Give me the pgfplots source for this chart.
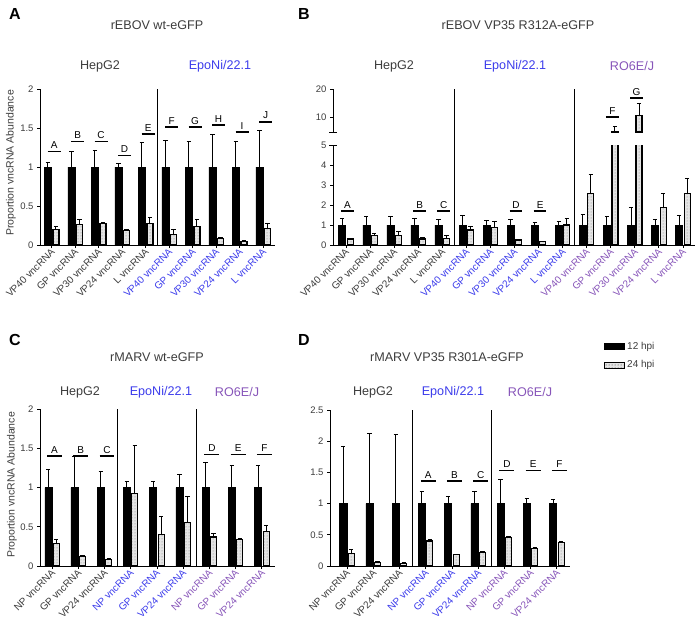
\documentclass[border=0pt]{standalone}
\usepackage{fontspec}
\setmainfont{Liberation Sans}
\usepackage{pgfplots}
\pgfplotsset{compat=1.18}
\usepackage{pgfplotstable}
\usetikzlibrary{patterns}
\definecolor{txt}{RGB}{60,60,60}
\definecolor{epo}{RGB}{60,60,235}
\definecolor{ro}{RGB}{135,85,185}
\definecolor{dotfill}{RGB}{228,228,228}

\pgfplotstableread{
x blk blktop dot dottop
0 1 1.06 0.20 0.24
1 1 1.20 0.26 0.33
2 1 1.21 0.27 0.29
3 1 1.05 0.19 0.20
4 1 1.32 0.27 0.35
5 1 1.34 0.14 0.20
6 1 1.33 0.24 0.33
7 1 1.42 0.08 0.10
8 1 1.33 0.05 0.06
9 1 1.47 0.21 0.28
}\dataA

\pgfplotstableread{
x blk blktop dot dottop
0 1 1.33 0.30 0.35
1 1 1.42 0.47 0.58
2 1 1.42 0.47 0.67
3 1 1.33 0.30 0.38
4 1 1.28 0.33 0.47
5 1 1.50 0.75 0.95
6 1 1.22 0.88 1.17
7 1 1.30 0.25 0.30
8 1 1.12 0.17 0.20
9 1 1.17 1.00 1.33
10 1 1.55 2.58 3.53
11 1 1.45 5.30 6.90
12 1 1.88 10.8 15.1
13 1 1.28 1.88 2.58
14 1 1.47 2.58 3.33
}\dataB

\pgfplotstableread{
x dot dottop
11 5.30 6.90
12 10.8 15.1
}\dataBup

\pgfplotstableread{
x blk blktop dot dottop
0 1 1.23 0.29 0.34
1 1 1.39 0.12 0.13
2 1 1.20 0.08 0.10
3 1 1.08 0.92 1.53
4 1 1.08 0.40 0.63
5 1 1.16 0.55 0.88
6 1 1.32 0.37 0.42
7 1 1.28 0.34 0.35
8 1 1.28 0.44 0.51
}\dataC

\pgfplotstableread{
x blk blktop dot dottop
0 1 1.92 0.20 0.26
1 1 2.12 0.06 0.065
2 1 2.10 0.045 0.05
3 1 1.20 0.40 0.42
4 1 1.12 0.18 0.19
5 1 1.20 0.22 0.23
6 1 1.38 0.45 0.47
7 1 1.08 0.28 0.30
8 1 1.06 0.37 0.39
}\dataD

\pgfplotsset{
  panel/.style={
    scale only axis, anchor=south west, axis lines*=left, clip marker paths=true,
    axis line style={black, line width=0.9pt},
    tick align=outside, major tick length=3pt,
    every tick/.style={black, line width=0.9pt},
    y tick label style={font=\fontsize{9.5}{10}\selectfont, text=txt},
    x tick label style={font=\fontsize{10}{11}\selectfont, text=txt, rotate=45, anchor=east, inner sep=1.5pt, yshift=-2.5pt, xshift=1pt},
    /pgf/number format/assume math mode=true,
    ymin=0,
  },
  blk/.style={ybar, bar width=7pt, bar shift=0pt, fill=black, draw=black, line width=0.5pt,
    error bars/y dir=plus, error bars/y explicit,
    error bars/error bar style={black, line width=1pt},
    error bars/error mark options={black, rotate=90, mark size=2.2pt, line width=1pt},
    legend image code/.code={\draw[fill=black, draw=black] (0pt,-3pt) rectangle (20pt,3pt);}},
  dt/.style={ybar, bar width=6pt, bar shift=0pt, fill=dotfill, draw=black, line width=1.1pt,
    postaction={pattern=dots, pattern color=gray},
    error bars/y dir=plus, error bars/y explicit,
    error bars/error bar style={black, line width=1pt},
    error bars/error mark options={black, rotate=90, mark size=2.2pt, line width=1pt},
    legend image code/.code={\draw[fill=dotfill, draw=black, line width=0.9pt, postaction={pattern=dots, pattern color=gray}] (0pt,-3pt) rectangle (20pt,3pt);}},
  sep/.style={black, line width=1.5pt, forget plot, mark=none},
  sig/.style={black, line width=1.5pt, forget plot, mark=none},
}
\newcommand{\sigfont}{\fontsize{10}{11}\selectfont\color{txt}}
% #1 table, #2 left offset of black bars, #3 right offset of dotted bars (in x units)
\newcommand{\bars}[3]{%
  \addplot[blk] table[x expr=\thisrow{x}-#2, y=blk, y error plus expr=\thisrow{blktop}-\thisrow{blk}] {#1};
  \addplot[dt] table[x expr=\thisrow{x}+#3, y=dot, y error plus expr=\thisrow{dottop}-\thisrow{dot}] {#1};
}

\begin{document}
\begin{tikzpicture}
\path[use as bounding box] (0pt,0pt) rectangle (696pt,-626pt);

% ---------------- Panel A ----------------
\begin{axis}[panel, at={(40pt,-245pt)}, width=235pt, height=156pt,
  xmin=-0.5, xmax=9.5, ymax=2, ytick={0,0.5,1,1.5,2},
  xtick={0,...,9},
  xticklabels={VP40 vncRNA, GP vncRNA, VP30 vncRNA, VP24 vncRNA, L vncRNA,
    \textcolor{epo}{VP40 vncRNA}, \textcolor{epo}{GP vncRNA}, \textcolor{epo}{VP30 vncRNA}, \textcolor{epo}{VP24 vncRNA}, \textcolor{epo}{L vncRNA}}]
\bars{\dataA}{0.162}{0.179}
\addplot[sep] coordinates {(4.5,0) (4.5,2)};
\addplot[sig] coordinates {(-0.18,1.20) (0.38,1.20)} node[pos=0.5, above, inner sep=2pt, font=\sigfont] {A};
\addplot[sig] coordinates {(0.82,1.33) (1.38,1.33)} node[pos=0.5, above, inner sep=2pt, font=\sigfont] {B};
\addplot[sig] coordinates {(1.82,1.33) (2.38,1.33)} node[pos=0.5, above, inner sep=2pt, font=\sigfont] {C};
\addplot[sig] coordinates {(2.82,1.15) (3.38,1.15)} node[pos=0.5, above, inner sep=2pt, font=\sigfont] {D};
\addplot[sig] coordinates {(3.82,1.42) (4.38,1.42)} node[pos=0.5, above, inner sep=2pt, font=\sigfont] {E};
\addplot[sig] coordinates {(4.82,1.51) (5.38,1.51)} node[pos=0.5, above, inner sep=2pt, font=\sigfont] {F};
\addplot[sig] coordinates {(5.82,1.51) (6.38,1.51)} node[pos=0.5, above, inner sep=2pt, font=\sigfont] {G};
\addplot[sig] coordinates {(6.82,1.54) (7.38,1.54)} node[pos=0.5, above, inner sep=2pt, font=\sigfont] {H};
\addplot[sig] coordinates {(7.82,1.45) (8.38,1.45)} node[pos=0.5, above, inner sep=2pt, font=\sigfont] {I};
\addplot[sig] coordinates {(8.82,1.58) (9.38,1.58)} node[pos=0.5, above, inner sep=2pt, font=\sigfont] {J};
\end{axis}

% ---------------- Panel B (broken axis) ----------------
\begin{axis}[panel, at={(333pt,-245pt)}, width=362pt, height=100pt,
  xmin=-0.54, xmax=14.5, ymax=5, ytick={0,1,2,3,4,5},
  xtick={0,...,14},
  xticklabels={VP40 vncRNA, GP vncRNA, VP30 vncRNA, VP24 vncRNA, L vncRNA,
    \textcolor{epo}{VP40 vncRNA}, \textcolor{epo}{GP vncRNA}, \textcolor{epo}{VP30 vncRNA}, \textcolor{epo}{VP24 vncRNA}, \textcolor{epo}{L vncRNA},
    \textcolor{ro}{VP40 vncRNA}, \textcolor{ro}{GP vncRNA}, \textcolor{ro}{VP30 vncRNA}, \textcolor{ro}{VP24 vncRNA}, \textcolor{ro}{L vncRNA}},
  after end axis/.code={
    \draw[black, line width=1.5pt] (axis cs:4.5,5) -- ++(0pt,14pt);
    \draw[black, line width=1.5pt] (axis cs:9.5,5) -- ++(0pt,14pt);
    \draw[black, line width=0.9pt] ([xshift=-4pt]axis cs:-0.54,5) -- ++(8pt,0pt);
  }]
\bars{\dataB}{0.158}{0.174}
\addplot[sep] coordinates {(4.5,0) (4.5,5)};
\addplot[sep] coordinates {(9.5,0) (9.5,5)};
\addplot[sig] coordinates {(-0.2,1.7) (0.33,1.7)} node[pos=0.5, above, inner sep=2pt, font=\sigfont] {A};
\addplot[sig] coordinates {(2.8,1.7) (3.33,1.7)} node[pos=0.5, above, inner sep=2pt, font=\sigfont] {B};
\addplot[sig] coordinates {(3.8,1.7) (4.33,1.7)} node[pos=0.5, above, inner sep=2pt, font=\sigfont] {C};
\addplot[sig] coordinates {(6.8,1.7) (7.33,1.7)} node[pos=0.5, above, inner sep=2pt, font=\sigfont] {D};
\addplot[sig] coordinates {(7.8,1.7) (8.33,1.7)} node[pos=0.5, above, inner sep=2pt, font=\sigfont] {E};
\end{axis}

\begin{axis}[panel, at={(333pt,-132pt)}, width=362pt, height=43pt,
  xmin=-0.54, xmax=14.5, ymin=5, ymax=20, ytick={10,20},
  axis x line=none, axis y line*=left, clip=true,
  after end axis/.code={
    \draw[black, line width=0.9pt] ([xshift=-4pt]axis cs:-0.54,5) -- ++(8pt,0pt);
  }]
\addplot[dt] table[x expr=\thisrow{x}+0.174, y=dot, y error plus expr=\thisrow{dottop}-\thisrow{dot}] {\dataBup};
\addplot[sep] coordinates {(4.5,5) (4.5,20)};
\addplot[sep] coordinates {(9.5,5) (9.5,20)};
\end{axis}
\begin{axis}[panel, at={(333pt,-132pt)}, width=362pt, height=43pt,
  xmin=-0.54, xmax=14.5, ymin=5, ymax=20, hide axis, clip=false]
\addplot[sig] coordinates {(10.8,10.3) (11.33,10.3)} node[pos=0.5, above, inner sep=2pt, font=\sigfont] {F};
\addplot[sig] coordinates {(11.8,16.9) (12.33,16.9)} node[pos=0.5, above, inner sep=2pt, font=\sigfont] {G};
\end{axis}

% ---------------- Panel C ----------------
\begin{axis}[panel, at={(40pt,-566pt)}, width=235pt, height=157pt,
  xmin=-0.46, xmax=8.5, ymax=2, ytick={0,0.5,1,1.5,2},
  xtick={0,...,8},
  xticklabels={NP vncRNA, GP vncRNA, VP24 vncRNA,
    \textcolor{epo}{NP vncRNA}, \textcolor{epo}{GP vncRNA}, \textcolor{epo}{VP24 vncRNA},
    \textcolor{ro}{NP vncRNA}, \textcolor{ro}{GP vncRNA}, \textcolor{ro}{VP24 vncRNA}}]
\bars{\dataC}{0.145}{0.16}
\addplot[sep] coordinates {(2.5,0) (2.5,2)};
\addplot[sep] coordinates {(5.5,0) (5.5,2)};
\addplot[sig] coordinates {(-0.19,1.40) (0.38,1.40)} node[pos=0.5, above, inner sep=2pt, font=\sigfont] {A};
\addplot[sig] coordinates {(0.81,1.40) (1.38,1.40)} node[pos=0.5, above, inner sep=2pt, font=\sigfont] {B};
\addplot[sig] coordinates {(1.81,1.40) (2.38,1.40)} node[pos=0.5, above, inner sep=2pt, font=\sigfont] {C};
\addplot[sig] coordinates {(5.81,1.42) (6.38,1.42)} node[pos=0.5, above, inner sep=2pt, font=\sigfont] {D};
\addplot[sig] coordinates {(6.81,1.42) (7.38,1.42)} node[pos=0.5, above, inner sep=2pt, font=\sigfont] {E};
\addplot[sig] coordinates {(7.81,1.42) (8.38,1.42)} node[pos=0.5, above, inner sep=2pt, font=\sigfont] {F};
\end{axis}

% ---------------- Panel D ----------------
\begin{axis}[panel, at={(330pt,-566pt)}, width=240pt, height=156pt,
  xmin=-0.65, xmax=8.5, ymax=2.5, ytick={0,0.5,1,1.5,2,2.5},
  xtick={0,...,8},
  xticklabels={NP vncRNA, GP vncRNA, VP24 vncRNA,
    \textcolor{epo}{NP vncRNA}, \textcolor{epo}{GP vncRNA}, \textcolor{epo}{VP24 vncRNA},
    \textcolor{ro}{NP vncRNA}, \textcolor{ro}{GP vncRNA}, \textcolor{ro}{VP24 vncRNA}},
  legend style={at={(1.142,1.45)}, anchor=north west, draw=none, fill=none,
    font=\fontsize{10}{12}\selectfont, text=txt, row sep=6pt, inner sep=0pt},
  legend cell align=left]
\bars{\dataD}{0.145}{0.16}
\addplot[sep] coordinates {(2.5,0) (2.5,2.5)};
\addplot[sep] coordinates {(5.5,0) (5.5,2.5)};
\addplot[sig] coordinates {(2.81,1.36) (3.38,1.36)} node[pos=0.5, above, inner sep=2pt, font=\sigfont] {A};
\addplot[sig] coordinates {(3.81,1.36) (4.38,1.36)} node[pos=0.5, above, inner sep=2pt, font=\sigfont] {B};
\addplot[sig] coordinates {(4.81,1.36) (5.38,1.36)} node[pos=0.5, above, inner sep=2pt, font=\sigfont] {C};
\addplot[sig] coordinates {(5.81,1.53) (6.38,1.53)} node[pos=0.5, above, inner sep=2pt, font=\sigfont] {D};
\addplot[sig] coordinates {(6.81,1.53) (7.38,1.53)} node[pos=0.5, above, inner sep=2pt, font=\sigfont] {E};
\addplot[sig] coordinates {(7.81,1.53) (8.38,1.53)} node[pos=0.5, above, inner sep=2pt, font=\sigfont] {F};
\legend{12 hpi, 24 hpi}
\end{axis}

% ---------------- Texts ----------------
\begin{scope}[every node/.style={text=txt}]
\node[font=\fontsize{16}{18}\selectfont\bfseries, text=black] at (15pt,-14pt) {A};
\node[font=\fontsize{16}{18}\selectfont\bfseries, text=black] at (304pt,-14pt) {B};
\node[font=\fontsize{16}{18}\selectfont\bfseries, text=black] at (15pt,-340pt) {C};
\node[font=\fontsize{16}{18}\selectfont\bfseries, text=black] at (304pt,-340pt) {D};

\node[font=\fontsize{12.6}{14}\selectfont] at (157pt,-25pt) {rEBOV wt-eGFP};
\node[font=\fontsize{12.6}{14}\selectfont] at (518pt,-25pt) {rEBOV VP35 R312A-eGFP};
\node[font=\fontsize{12.6}{14}\selectfont] at (157pt,-357pt) {rMARV wt-eGFP};
\node[font=\fontsize{12.6}{14}\selectfont] at (447pt,-357pt) {rMARV VP35 R301A-eGFP};

\node[font=\fontsize{12.6}{14}\selectfont] at (100pt,-66pt) {HepG2};
\node[font=\fontsize{12.6}{14}\selectfont, text=epo] at (220pt,-66pt) {EpoNi/22.1};
\node[font=\fontsize{12.6}{14}\selectfont] at (394pt,-66pt) {HepG2};
\node[font=\fontsize{12.6}{14}\selectfont, text=epo] at (515pt,-66pt) {EpoNi/22.1};
\node[font=\fontsize{12.6}{14}\selectfont, text=ro] at (632pt,-66pt) {RO6E/J};

\node[font=\fontsize{12.6}{14}\selectfont] at (80pt,-392pt) {HepG2};
\node[font=\fontsize{12.6}{14}\selectfont, text=epo] at (161pt,-392pt) {EpoNi/22.1};
\node[font=\fontsize{12.6}{14}\selectfont, text=ro] at (237pt,-392pt) {RO6E/J};
\node[font=\fontsize{12.6}{14}\selectfont] at (373pt,-392pt) {HepG2};
\node[font=\fontsize{12.6}{14}\selectfont, text=epo] at (453pt,-392pt) {EpoNi/22.1};
\node[font=\fontsize{12.6}{14}\selectfont, text=ro] at (530pt,-392pt) {RO6E/J};

\node[rotate=90, font=\fontsize{10.5}{12}\selectfont] at (11pt,-163pt) {Proportion vncRNA Abundance};
\node[rotate=90, font=\fontsize{10.5}{12}\selectfont] at (12pt,-485pt) {Proportion vncRNA Abundance};
\end{scope}
\end{tikzpicture}
\end{document}
